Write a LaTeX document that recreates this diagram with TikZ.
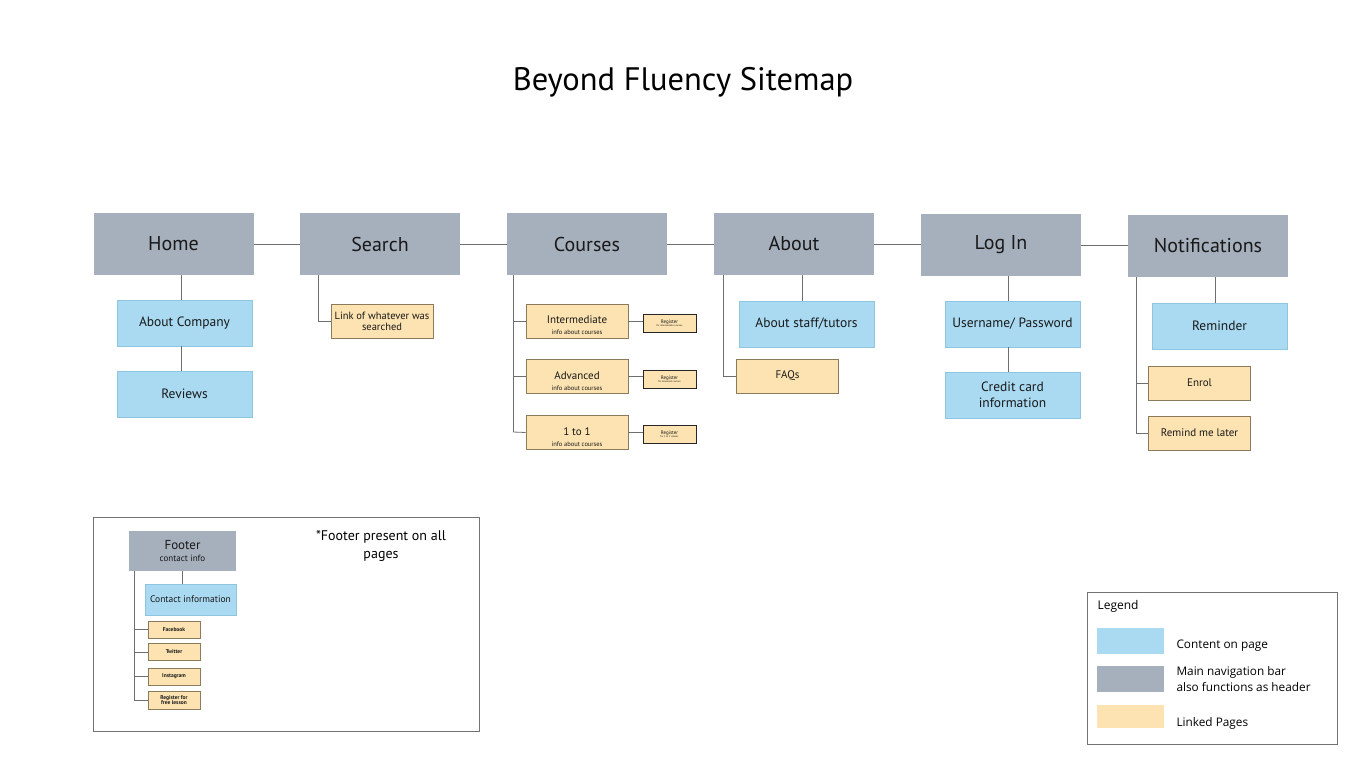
\documentclass[tikz,border=0pt]{standalone}
\usepackage{fontspec}
\setmainfont{PT Sans}
\newfontfamily\legfont{Open Sans}
\definecolor{hdrgray}{HTML}{A6AFBC}
\definecolor{pgblue}{HTML}{A9DAF2}
\definecolor{pgblueline}{HTML}{8EC6E0}
\definecolor{lnkor}{HTML}{FCE3B1}
\definecolor{lnkline}{HTML}{8C7A5C}
\definecolor{conn}{HTML}{6E6E6E}
\begin{document}
\begin{tikzpicture}[x=1pt,y=-1pt,
  box/.style={inner sep=0pt, align=center, text=black!90},
  hdr/.style={box, fill=hdrgray, minimum width=160pt, minimum height=62pt, font=\fontsize{20}{22}\selectfont},
  cont/.style={box, fill=pgblue, draw=pgblueline, line width=0.6pt, minimum width=135pt, minimum height=46pt, font=\fontsize{13.5}{16}\selectfont},
  lnk/.style={box, fill=lnkor, draw=lnkline, line width=0.6pt, minimum width=102pt, minimum height=34pt, font=\fontsize{11}{12}\selectfont},
  reg/.style={box, fill=lnkor, draw=black!85, line width=0.6pt, minimum width=53pt, minimum height=18pt, font=\fontsize{5}{5}\selectfont},
  small/.style={box, fill=lnkor, draw=lnkline, line width=0.6pt, minimum width=52pt, minimum height=17pt, font=\fontsize{5.5}{6}\selectfont\bfseries},
  cn/.style={draw=conn, line width=0.8pt},
  frame/.style={draw=black!55, line width=0.8pt}
]
\useasboundingbox (0,0) rectangle (1366,768);
\fill[white] (0,0) rectangle (1366,768);

\node[font=\fontsize{32.5}{36}\selectfont] (title) at (683,82) {Beyond Fluency Sitemap};

% headers
\node[hdr] (home) at (173.5,244) {Home};
\node[hdr] (search) at (380,244) {Search};
\node[hdr] (courses) at (587,244) {Courses};
\node[hdr] (about) at (794,244) {About};
\node[hdr] (login) at (1001,245) {Log In};
\node[hdr] (notif) at (1208,245.5) {Notifications};

\draw[cn] (home.east) -- (home.east -| search.west);
\draw[cn] (search.east) -- (search.east -| courses.west);
\draw[cn] (courses.east) -- (courses.east -| about.west);
\draw[cn] (about.east) -- (about.east -| login.west);
\draw[cn] (login.east) -- (login.east -| notif.west);

% Home
\node[cont] (acomp) at (184.5,323) {About Company};
\node[cont] (reviews) at (184.5,394) {Reviews};
\draw[cn] (181,275) -- (181,300);
\draw[cn] (181,346) -- (181,371);

% Search
\node[lnk, font=\fontsize{10.5}{11}\selectfont] (link) at (382,321.5) {Link of whatever was\\searched};
\draw[cn] (318,275) |- (link.west);

% Courses
\node[lnk] (inter) at (577,321) {\rule{0pt}{17pt}Intermediate\\[-1pt]{\fontsize{6.5}{7}\selectfont info about courses}};
\node[lnk] (adv) at (577,376.5) {\rule{0pt}{17pt}Advanced\\[-1pt]{\fontsize{6.5}{7}\selectfont info about courses}};
\node[lnk] (one) at (577,432.5) {\rule{0pt}{17pt}1 to 1\\[-1pt]{\fontsize{6.5}{7}\selectfont info about courses}};
\node[reg] (r1) at (669.5,323) {Register\\[-1.5pt]{\fontsize{2.5}{3}\selectfont for intermediate courses}};
\node[reg] (r2) at (669.5,379) {Register\\[-1.5pt]{\fontsize{2.5}{3}\selectfont for advanced courses}};
\node[reg] (r3) at (669.5,434) {Register\\[-1.5pt]{\fontsize{2.5}{3}\selectfont for 1 to 1 classes}};
\draw[cn] (513,275) -- (513,432);
\draw[cn] (513,321) -- (inter.west);
\draw[cn] (513,376.5) -- (adv.west);
\draw[cn] (513,432) -- (one.west);
\draw[cn] (inter.east) -- (inter.east -| r1.west);
\draw[cn] (adv.east) -- (adv.east -| r2.west);
\draw[cn] (one.east) -- (one.east -| r3.west);

% About
\node[cont] (staff) at (806.5,324) {About staff/tutors};
\node[lnk] (faq) at (787.5,376) {FAQs};
\draw[cn] (802,275) -- (staff.north -| 802,0);
\draw[cn] (723,275) |- (faq.west);

% Log in
\node[cont] (user) at (1012.5,324) {Username/ Password};
\node[cont] (cc) at (1012.5,395) {Credit card\\information};
\draw[cn] (1008,276) -- (1008,301);
\draw[cn] (1008,347) -- (1008,372);

% Notifications
\node[cont] (remind) at (1219.5,326) {Reminder};
\node[lnk] (enrol) at (1199.5,383) {Enrol};
\node[lnk] (later) at (1199.5,433) {Remind me later};
\draw[cn] (1215,277) -- (1215,303);
\draw[cn] (1136,277) -- (1136,433) -- (later.west);
\draw[cn] (1136,383) -- (enrol.west);

% Footer frame
\draw[frame] (93.5,517.5) rectangle (479.5,731.5);
\node[box, fill=hdrgray, minimum width=107pt, minimum height=40pt, font=\fontsize{13}{14}\selectfont] (footer) at (182.5,551) {Footer\\[-2pt]{\fontsize{9}{10}\selectfont contact info}};
\node[cont, minimum width=91pt, minimum height=31pt, font=\fontsize{9.5}{10}\selectfont] (cinfo) at (190.5,599.5) {Contact information};
\node[small] (fb) at (174,629.5) {Facebook};
\node[small] (tw) at (174,652) {Twitter};
\node[small] (ig) at (174,676.5) {Instagram};
\node[small, minimum height=18pt, font=\fontsize{5.5}{5.5}\selectfont\bfseries] (free) at (174,700) {Register for\\free lesson};
\draw[cn] (182,571) -- (182,584);
\draw[cn] (134,571) -- (134,700) -- (free.west);
\draw[cn] (134,629.5) -- (fb.west);
\draw[cn] (134,652) -- (tw.west);
\draw[cn] (134,676.5) -- (ig.west);
\node[align=center, font=\fontsize{14}{18}\selectfont] (note) at (381,546) {*Footer present on all\\pages};

% Legend
\draw[frame] (1087.5,592.5) rectangle (1337.5,744.5);
\node[anchor=west, font=\legfont\fontsize{12}{14}\selectfont] (legt) at (1094,606) {Legend};
\node[box, fill=pgblue, minimum width=67pt, minimum height=26pt] (sw1) at (1130.5,641) {};
\node[box, fill=hdrgray, minimum width=67pt, minimum height=26pt] (sw2) at (1130.5,679) {};
\node[box, fill=lnkor, minimum width=67pt, minimum height=23pt] (sw3) at (1130.5,716.5) {};
\node[anchor=west, font=\legfont\fontsize{11.8}{14}\selectfont] (l1) at (1173,646) {Content on page};
\node[anchor=west, align=left, font=\legfont\fontsize{11.8}{16}\selectfont] (l2) at (1173,679) {Main navigation bar\\also functions as header};
\node[anchor=west, font=\legfont\fontsize{11.8}{14}\selectfont] (l3) at (1173,723) {Linked Pages};
\end{tikzpicture}
\end{document}
